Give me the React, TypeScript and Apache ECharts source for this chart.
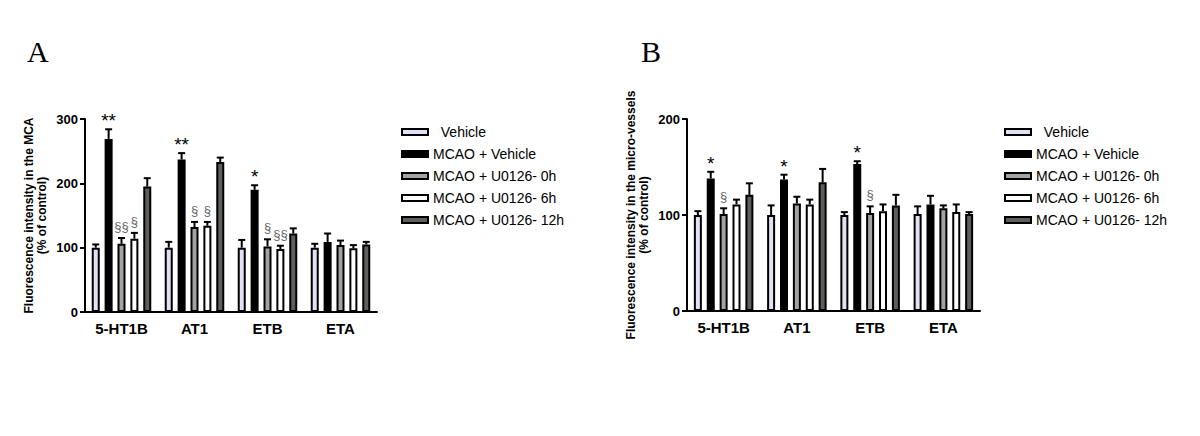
import React, { useEffect, useRef } from 'react';
import * as echarts from 'echarts';

// ---------- data ----------
const categories = ['5-HT1B', 'AT1', 'ETB', 'ETA'];
const seriesNames = ['Vehicle', 'MCAO + Vehicle', 'MCAO + U0126- 0h', 'MCAO + U0126- 6h', 'MCAO + U0126- 12h'];

// Panel A (MCA)
const vehicleA = [100, 100, 100, 100];
const mcaoVehicleA = [269, 237, 190, 109];
const u0126_0hA = [106, 132, 102, 104];
const u0126_6hA = [114, 134, 98, 99];
const u0126_12hA = [195, 233, 122, 105];

const vehicleAErr = [5, 9, 12, 6];
const mcaoVehicleAErr = [15, 10, 7, 13];
const u0126_0hAErr = [9, 8, 11, 7];
const u0126_6hAErr = [9, 6, 5, 5];
const u0126_12hAErr = [13, 7, 8, 4];

const vehicleAMark = ['', '', '', ''];
const mcaoVehicleAMark = ['**', '**', '*', ''];
const u0126_0hAMark = ['§§', '§', '§', ''];
const u0126_6hAMark = ['§', '§', '§§', ''];
const u0126_12hAMark = ['', '', '', ''];

// Panel B (micro-vessels)
const vehicleB = [100, 100, 100, 101];
const mcaoVehicleB = [138, 137, 153, 111];
const u0126_0hB = [101, 112, 102, 107];
const u0126_6hB = [111, 111, 104, 103];
const u0126_12hB = [121, 134, 110, 101];

const vehicleBErr = [4, 10, 3, 8];
const mcaoVehicleBErr = [7, 5, 3, 9];
const u0126_0hBErr = [6, 7, 7, 3];
const u0126_6hBErr = [5, 5, 7, 8];
const u0126_12hBErr = [12, 14, 11, 2];

const vehicleBMark = ['', '', '', ''];
const mcaoVehicleBMark = ['*', '*', '*', ''];
const u0126_0hBMark = ['§', '', '§', ''];
const u0126_6hBMark = ['', '', '', ''];
const u0126_12hBMark = ['', '', '', ''];

const yTicksA = { min: 0, max: 300, interval: 100 };
const yTicksB = { min: 0, max: 200, interval: 100 };

// ---------- style ----------
const colors = ['#e2e2f6', '#000000', '#a3a3a3', '#ffffff', '#5e5f5b'];
const FONT = '"Liberation Sans", Arial, sans-serif';
const BAR_W = 8;
const BAR_GAP = 0.61;
const PITCH = BAR_W * (1 + BAR_GAP);

const meansA = [vehicleA, mcaoVehicleA, u0126_0hA, u0126_6hA, u0126_12hA];
const errsA = [vehicleAErr, mcaoVehicleAErr, u0126_0hAErr, u0126_6hAErr, u0126_12hAErr];
const marksA = [vehicleAMark, mcaoVehicleAMark, u0126_0hAMark, u0126_6hAMark, u0126_12hAMark];
const meansB = [vehicleB, mcaoVehicleB, u0126_0hB, u0126_6hB, u0126_12hB];
const errsB = [vehicleBErr, mcaoVehicleBErr, u0126_0hBErr, u0126_6hBErr, u0126_12hBErr];
const marksB = [vehicleBMark, mcaoVehicleBMark, u0126_0hBMark, u0126_6hBMark, u0126_12hBMark];

function barSeries(gi: number, means: number[][]) {
  return means.map((vals, s) => ({
    type: 'bar',
    name: seriesNames[s],
    xAxisIndex: gi,
    yAxisIndex: gi,
    data: vals,
    barWidth: BAR_W,
    barGap: `${BAR_GAP * 100}%`,
    itemStyle: { color: colors[s], borderColor: '#000', borderWidth: 2 },
    z: 2,
  }));
}

function errSeries(gi: number, means: number[][], errs: number[][], marks: string[][]) {
  const data: number[][] = [];
  means.forEach((vals, s) => vals.forEach((m, c) => data.push([c, s, m, errs[s][c]])));
  return {
    type: 'custom',
    xAxisIndex: gi,
    yAxisIndex: gi,
    silent: true,
    z: 5,
    data,
    encode: { x: 0, y: 2 },
    renderItem: (params: any, api: any) => {
      const c = api.value(0);
      const s = api.value(1);
      const m = api.value(2);
      const e = api.value(3);
      const base = api.coord([c, m]);
      const top = api.coord([c, m + e]);
      const x = base[0] + (s - 2) * PITCH;
      const ls = { stroke: '#000', lineWidth: 2 };
      const children: any[] = [
        { type: 'line', shape: { x1: x, y1: base[1], x2: x, y2: top[1] }, style: ls },
        { type: 'line', shape: { x1: x - 3.5, y1: top[1], x2: x + 3.5, y2: top[1] }, style: ls },
      ];
      const t = marks[s][c];
      if (t) {
        const star = t.indexOf('*') >= 0;
        children.push({
          type: 'text',
          x,
          y: top[1] - (star ? -1 : 5),
          style: {
            text: t,
            textAlign: 'center',
            textVerticalAlign: 'bottom',
            fill: star ? '#000' : '#666666',
            fontSize: star ? 19 : 13,
            fontFamily: FONT,
          },
        });
      }
      return { type: 'group', children };
    },
  };
}

function xAxis(gi: number) {
  return {
    gridIndex: gi,
    type: 'category',
    data: categories,
    axisLine: { lineStyle: { color: '#000', width: 2 } },
    axisTick: { alignWithLabel: true, length: 5, lineStyle: { color: '#000', width: 2 } },
    axisLabel: { color: '#000', fontWeight: 'bold', fontSize: 15, fontFamily: FONT, margin: 9 },
  };
}

function yAxis(gi: number, ticks: any, name: string) {
  return {
    gridIndex: gi,
    type: 'value',
    ...ticks,
    name,
    nameLocation: 'middle',
    nameGap: 37,
    nameTextStyle: { color: '#000', fontWeight: 'bold', fontSize: 12, fontFamily: FONT, lineHeight: 13 },
    axisLine: { show: true, lineStyle: { color: '#000', width: 2 } },
    axisTick: { show: true, length: 5, lineStyle: { color: '#000', width: 2 } },
    axisLabel: { color: '#000', fontWeight: 'bold', fontSize: 13, fontFamily: FONT, margin: 7 },
    splitLine: { show: false },
  };
}

function legend(left: number) {
  return {
    orient: 'vertical',
    left,
    top: 120,
    icon: 'rect',
    itemWidth: 26,
    itemHeight: 6,
    itemGap: 8,
    data: seriesNames,
    formatter: (n: string) => (n === 'Vehicle' ? '  ' + n : n),
    itemStyle: { borderColor: '#000', borderWidth: 2 },
    textStyle: { color: '#000', fontSize: 14, fontFamily: FONT },
  };
}

export default function App() {
  const ref = useRef<HTMLDivElement>(null);
  useEffect(() => {
    const chart = echarts.init(ref.current!, null, { renderer: 'svg' });
    chart.setOption({
      animation: false,
      backgroundColor: '#fff',
      textStyle: { fontFamily: FONT },
      grid: [
        { left: 85, top: 119, width: 292, height: 193 },
        { left: 687, top: 119, width: 293, height: 192 },
      ],
      xAxis: [xAxis(0), xAxis(1)],
      yAxis: [
        yAxis(0, yTicksA, 'Fluorescence intensity in the MCA\n(% of control)'),
        yAxis(1, yTicksB, 'Fluorescence intensity in the micro-vessels\n(% of control)'),
      ],
      legend: [legend(396), legend(999)],
      graphic: [
        { type: 'text', left: 27, top: 36, style: { text: 'A', fontSize: 30, fontFamily: '"Liberation Serif", serif', fill: '#000' } },
        { type: 'text', left: 641, top: 36, style: { text: 'B', fontSize: 30, fontFamily: '"Liberation Serif", serif', fill: '#000' } },
      ],
      series: [
        ...barSeries(0, meansA),
        ...barSeries(1, meansB),
        errSeries(0, meansA, errsA, marksA),
        errSeries(1, meansB, errsB, marksB),
      ],
    });
    return () => chart.dispose();
  }, []);
  return (
    <div
      ref={ref}
      style={{ position: 'fixed', left: 0, top: 0, width: 1200, height: 436, background: '#fff' }}
    />
  );
}
